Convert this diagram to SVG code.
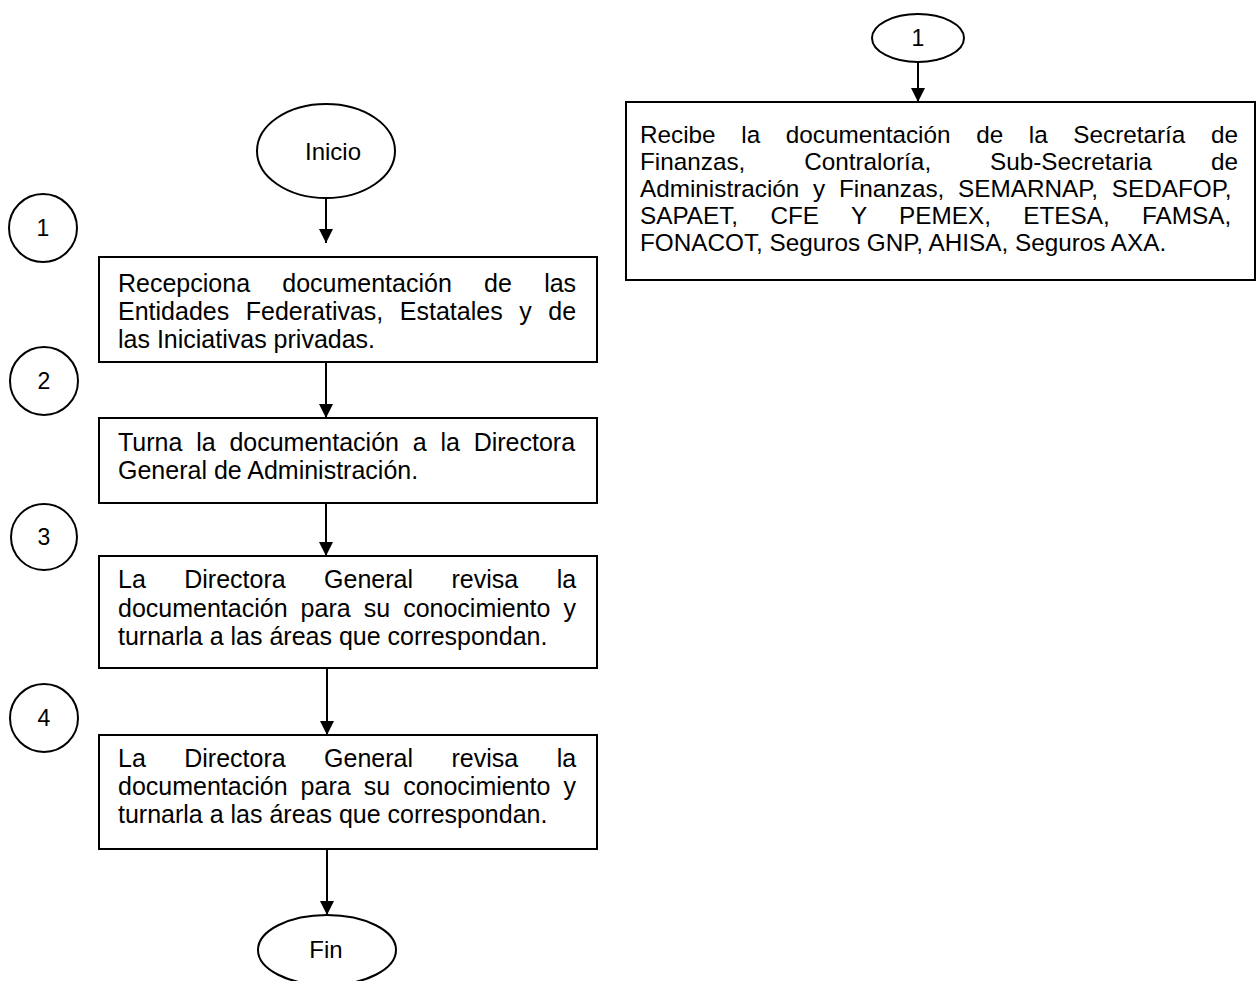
<svg xmlns="http://www.w3.org/2000/svg" width="1260" height="981" viewBox="0 0 1260 981">
<style>
.box{fill:#fff;stroke:#000;stroke-width:2}
.term{fill:#fff;stroke:#000;stroke-width:2}
.t{font-family:"Liberation Sans",Arial,sans-serif;font-size:25px;fill:#000}
.tr{font-family:"Liberation Sans",Arial,sans-serif;font-size:24.3px;fill:#000}
.n{font-family:"Liberation Sans",Arial,sans-serif;font-size:23px;fill:#000;text-anchor:middle}
.c{font-family:"Liberation Sans",Arial,sans-serif;font-size:24px;fill:#000;text-anchor:middle}
.edge{stroke:#000;stroke-width:2;fill:none;marker-end:url(#ah)}
</style>
<defs>
<marker id="ah" markerUnits="userSpaceOnUse" markerWidth="14" markerHeight="16" refX="14" refY="7" orient="auto">
<path d="M0,0 L14,7 L0,14 z" fill="#000"/>
</marker>
</defs>
<rect width="1260" height="981" fill="#fff"/>
<g id="connectors">
<line class="edge" x1="918" y1="62" x2="918" y2="102"/>
<line class="edge" x1="326" y1="198" x2="326" y2="243"/>
<line class="edge" x1="326" y1="362" x2="326" y2="418"/>
<line class="edge" x1="326" y1="503" x2="326" y2="556"/>
<line class="edge" x1="327" y1="668" x2="327" y2="735"/>
<line class="edge" x1="327" y1="849" x2="327" y2="915"/>
</g>
<g id="conn-1-top">
<ellipse class="term" cx="918" cy="38" rx="46" ry="24"/>
<text class="n" x="918" y="46">1</text>
</g>
<g id="box-recibe">
<rect class="box" x="626" y="102" width="629" height="178"/>
<text class="tr" x="640" y="143" word-spacing="18.85">Recibe la documentación de la Secretaría de</text>
<text class="tr" x="640" y="170" word-spacing="52.1">Finanzas, Contraloría, Sub-Secretaria de</text>
<text class="tr" x="640" y="197" word-spacing="7">Administración y Finanzas, SEMARNAP, SEDAFOP,</text>
<text class="tr" x="640" y="224" word-spacing="25.6">SAPAET, CFE Y PEMEX, ETESA, FAMSA,</text>
<text class="tr" x="640" y="251">FONACOT, Seguros GNP, AHISA, Seguros AXA.</text>
</g>
<g id="inicio">
<ellipse class="term" cx="326" cy="151" rx="69" ry="47"/>
<text class="c" x="333" y="160">Inicio</text>
</g>
<g id="step-1">
<circle class="term" cx="43" cy="228" r="34"/>
<text class="n" x="43" y="236">1</text>
</g>
<g id="box-1">
<rect class="box" x="99" y="257" width="498" height="105"/>
<text class="t" x="118" y="292" word-spacing="25.3">Recepciona documentación de las</text>
<text class="t" x="118" y="320" word-spacing="9.6">Entidades Federativas, Estatales y de</text>
<text class="t" x="118" y="348">las Iniciativas privadas.</text>
</g>
<g id="step-2">
<circle class="term" cx="44" cy="381" r="34"/>
<text class="n" x="44" y="389">2</text>
</g>
<g id="box-2">
<rect class="box" x="99" y="418" width="498" height="85"/>
<text class="t" x="118" y="451" word-spacing="6.84">Turna la documentación a la Directora</text>
<text class="t" x="118" y="479">General de Administración.</text>
</g>
<g id="step-3">
<circle class="term" cx="44" cy="537" r="33"/>
<text class="n" x="44" y="545">3</text>
</g>
<g id="box-3">
<rect class="box" x="99" y="556" width="498" height="112"/>
<text class="t" x="118" y="588" word-spacing="31.5">La Directora General revisa la</text>
<text class="t" x="118" y="617" word-spacing="6.1">documentación para su conocimiento y</text>
<text class="t" x="118" y="645">turnarla a las áreas que correspondan.</text>
</g>
<g id="step-4">
<circle class="term" cx="44" cy="718" r="34"/>
<text class="n" x="44" y="726">4</text>
</g>
<g id="box-4">
<rect class="box" x="99" y="735" width="498" height="114"/>
<text class="t" x="118" y="767" word-spacing="31.5">La Directora General revisa la</text>
<text class="t" x="118" y="795" word-spacing="6.1">documentación para su conocimiento y</text>
<text class="t" x="118" y="823">turnarla a las áreas que correspondan.</text>
</g>
<g id="fin">
<ellipse class="term" cx="327" cy="950" rx="69" ry="35"/>
<text class="c" x="326" y="958">Fin</text>
</g>
</svg>
